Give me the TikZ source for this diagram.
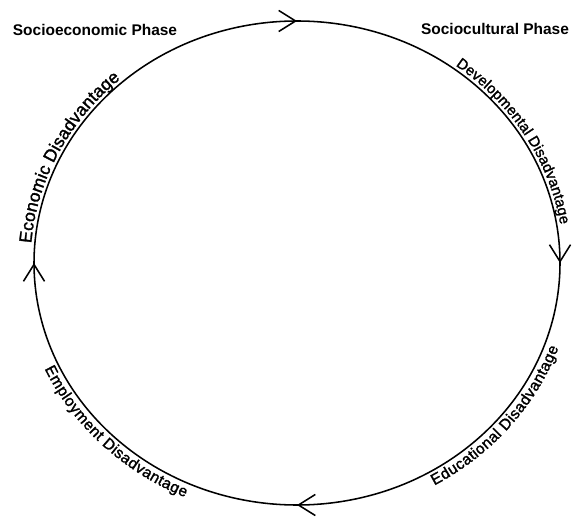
\documentclass[tikz,border=0pt]{standalone}
\usepackage{fontspec}
\setmainfont{Liberation Sans}
\newfontfamily\ringfont[FakeBold=1.6]{Liberation Sans}
\usetikzlibrary{arrows.meta,decorations.markings,decorations.text}
\tikzset{
  phase/.style      ={font=\fontsize{11}{13}\selectfont\bfseries,inner sep=0pt},
  ring/.style       ={line width=1.1pt,postaction={decorate},
                      decoration={markings,mark=at position 0.5
                        with {\arrow{Straight Barb[length=12pt,width=15pt,line width=1.1pt]}}}},
  upperlabel/.style ={decorate,decoration={text along path,text align=center,raise=2.5pt,text={#1}}},
  lowerlabel/.style ={decorate,decoration={text along path,text align=center,raise=-10pt,text={#1}}}
}
\begin{document}
\begin{tikzpicture}
  \useasboundingbox (0,0) rectangle (14.3,12.9);
  \coordinate (hub) at (7.425,6.325);
  % the cycle, clockwise, one arrow per quarter
  \foreach \a in {90,0,-90,-180}
    \draw[ring] (hub) ++(\a+45:6.575cm and 6.05cm)
      arc[start angle=\a+45,end angle=\a-45,x radius=6.575cm,y radius=6.05cm];
  \node[phase] (socioeconomic) at (2.375,12.15)  {Socioeconomic Phase};
  \node[phase] (sociocultural) at (12.375,12.175) {Sociocultural Phase};
  % labels along the ring
  \path[upperlabel={|\ringfont\fontsize{12.5}{15}\selectfont|Economic Disadvantage}] (hub) ++(194:6.575cm and 6.05cm)
    arc[start angle=194,end angle=114,x radius=6.575cm,y radius=6.05cm];
  \path[upperlabel={|\ringfont\fontsize{10.5}{13}\selectfont|Developmental Disadvantage}] (hub) ++(75:6.575cm and 6.05cm)
    arc[start angle=75,end angle=-14,x radius=6.575cm,y radius=6.05cm];
  \path[lowerlabel={|\ringfont\fontsize{11}{13}\selectfont|Educational Disadvantage}] (hub) ++(-80:6.575cm and 6.05cm)
    arc[start angle=-80,end angle=2,x radius=6.575cm,y radius=6.05cm];
  \path[lowerlabel={|\ringfont\fontsize{11}{13}\selectfont|Employment Disadvantage}] (hub) ++(185:6.575cm and 6.05cm)
    arc[start angle=185,end angle=264,x radius=6.575cm,y radius=6.05cm];
\end{tikzpicture}
\end{document}
